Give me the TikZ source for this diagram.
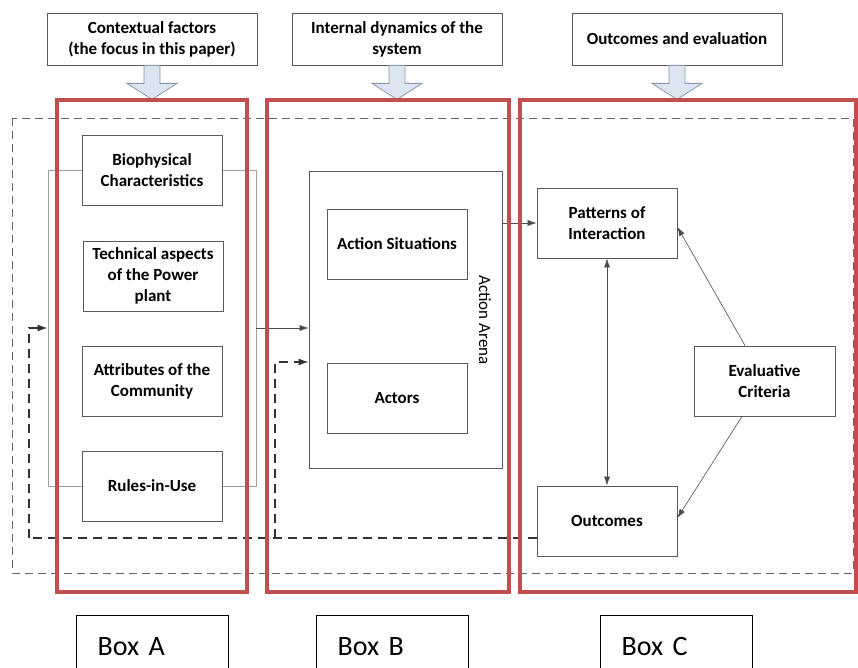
\documentclass[tikz,border=0pt]{standalone}
\usepackage{fontspec}
\setmainfont{Carlito}
\usetikzlibrary{arrows.meta,calc}

\definecolor{framered}{RGB}{192,80,77}
\definecolor{boxline}{RGB}{90,90,90}
\definecolor{bracketgray}{RGB}{160,160,160}
\definecolor{arrowfill}{RGB}{220,230,242}
\definecolor{arrowline}{RGB}{140,150,165}

\tikzset{
  headbox/.style={draw=boxline, line width=0.8pt, fill=white, minimum width=210pt,
    minimum height=52pt, align=center, font=\bfseries\fontsize{17}{21}\selectfont, inner sep=2pt},
  itembox/.style={draw=boxline, line width=0.8pt, fill=white, minimum width=140pt,
    minimum height=70pt, align=center, font=\bfseries\fontsize{17}{21}\selectfont, inner sep=2pt},
  bracketbox/.style={draw=bracketgray, line width=0.8pt, minimum width=208pt,
    minimum height=316pt, inner sep=0pt},
  arenabox/.style={draw=boxline, line width=0.8pt, minimum width=193pt,
    minimum height=297pt, inner sep=0pt},
  redframe/.style={draw=framered, line width=3.6pt},
  outerdash/.style={draw=black!60, line width=0.9pt, dash pattern=on 8pt off 5pt},
  feedback/.style={draw=black!80, line width=1.3pt, dash pattern=on 9pt off 6pt},
  conn/.style={draw=black!70, line width=0.6pt, -{Latex[length=9pt,width=6pt]}},
  dualconn/.style={draw=black!70, line width=0.6pt, {Latex[length=9pt,width=6pt]}-{Latex[length=9pt,width=6pt]}},
  fbtip/.style={-{Latex[length=10pt,width=7pt]}},
  labelbox/.style={draw=black, line width=1.4pt, anchor=north west, minimum width=152pt,
    minimum height=62pt, text width=110pt, inner xsep=21pt, align=left,
    font=\fontsize{28}{30}\selectfont},
  downarrow/.pic={
    \draw[fill=arrowfill, draw=arrowline, line width=0.8pt]
      (-8,0) -- (-8,18) -- (-25,18) -- (0,34) -- (25,18) -- (8,18) -- (8,0) -- cycle;
  }
}

\begin{document}
\begin{tikzpicture}[x=1pt,y=-1pt]
  \useasboundingbox (0,0) rectangle (858,668);
  \clip (0,0) rectangle (858,668);

  % outer dashed system boundary
  \draw[outerdash] (12,118) rectangle (853,573);

  % heading boxes with block arrows
  \node[headbox] (t1) at (152,39) {Contextual factors\\(the focus in this paper)};
  \node[headbox] (t2) at (397,39) {Internal dynamics of the\\system};
  \node[headbox] (t3) at (677,39) {Outcomes and evaluation};
  \pic at (t1.south) {downarrow};
  \pic at (t2.south) {downarrow};
  \pic at (t3.south) {downarrow};

  % contextual factors
  \node[bracketbox] (ctx) at (152,328) {};
  \node[itembox] (bio)  at (152,170) {Biophysical\\Characteristics};
  \node[itembox] (tech) at (153,276) {Technical aspects\\of the Power\\plant};
  \node[itembox] (attr) at (152,381) {Attributes of the\\Community};
  \node[itembox] (rules) at (152,486) {Rules-in-Use};

  % action arena
  \node[arenabox] (arena) at (405.5,319.5) {};
  \node[itembox] (sit) at (397,244) {Action Situations};
  \node[itembox] (act) at (397,398) {Actors};
  \node[rotate=-90, font=\fontsize{17}{19}\selectfont] (arenalbl) at (485,320) {Action Arena};

  % outcomes and evaluation
  \node[itembox] (pat) at (607,223) {Patterns of\\Interaction};
  \node[itembox] (out) at (607,521) {Outcomes};
  \node[itembox, minimum width=141pt] (eval) at (764.5,381) {Evaluative\\Criteria};

  % connectors
  \draw[conn] (ctx.east) -- (ctx.east -| arena.west);
  \draw[conn] (pat.west -| arena.east) -- (pat.west);
  \draw[dualconn] (pat.south) -- (out.north);
  \draw[conn] ([xshift=-19.5pt]eval.north) -- ([yshift=-4pt]pat.east);
  \draw[conn] ([xshift=-22.5pt]eval.south) -- ([yshift=3pt]out.east);

  % feedback loop from outcomes
  \coordinate (fbstart) at (537,538);
  \coordinate (fbleft) at (29,538);
  \coordinate (fbmid) at (275,538);
  \path (arena.west) ++(0,42.5) coordinate (arenain);
  \draw[feedback] (fbstart) -- (fbleft);
  \draw[feedback, fbtip] (fbleft) |- (ctx.west);
  \draw[feedback, fbtip] (fbmid) |- (arenain);

  % red highlight frames
  \draw[redframe] (57,100) rectangle (247,592);
  \draw[redframe] (267,100) rectangle (509,592);
  \draw[redframe] (520,100) rectangle (856,592);

  % box labels
  \node[labelbox] (boxa) at (76,615) {Box A};
  \node[labelbox] (boxb) at (316,615) {Box B};
  \node[labelbox] (boxc) at (600,615) {Box C};
\end{tikzpicture}
\end{document}
